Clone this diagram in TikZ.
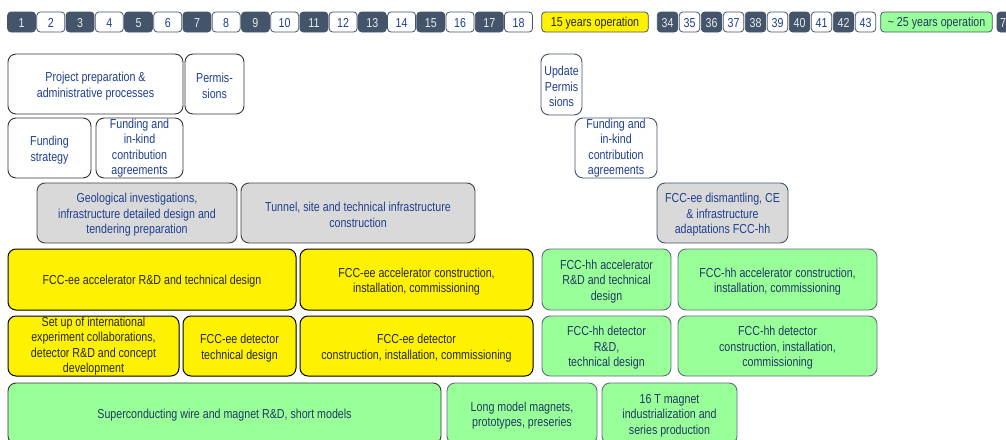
\documentclass[tikz,border=0pt]{standalone}
\usepackage{fontspec}
\setmainfont{Liberation Sans}[FakeStretch=0.82]
\usepackage{xcolor}
\usepackage{tikz}

\definecolor{slate}{RGB}{68,84,106}
\definecolor{txtblue}{RGB}{31,63,143}
\definecolor{grntxt}{RGB}{31,56,100}
\definecolor{boxgreen}{RGB}{153,255,153}
\definecolor{boxgrey}{RGB}{217,217,217}
\newcommand{\boxfont}{\fontsize{13}{15.5}\selectfont}
\newcommand{\fl}{\rule{0pt}{13.5pt}}

\tikzset{
  box/.style={rounded corners=8pt, align=center, inner sep=1pt, outer sep=0pt, line width=0.9pt, font=\boxfont},
  plain/.style={box, fill=white, draw=black!80, text=txtblue},
  grey/.style={box, fill=boxgrey, draw=black!75, text=txtblue},
  yel/.style={box, fill=yellow, draw=black, line width=1pt, text=black!85},
  grn/.style={box, fill=boxgreen, draw=slate!85, text=grntxt},
  yr/.style={rounded corners=3.5pt, inner sep=0pt, outer sep=0pt, line width=0.8pt, minimum width=28, minimum height=20, font=\boxfont,
    execute at begin node={\rule{0pt}{11pt}}},
  yr1/.style={yr, fill=slate, draw=slate, text=white!88!slate},
  yr0/.style={yr, fill=white, draw=slate, text=txtblue}
}

\begin{document}
\begin{tikzpicture}[x=1pt,y=-1pt]
	\useasboundingbox (0,0) rectangle (1006,439);
	\foreach \i in {1,...,18}{
		\pgfmathtruncatemacro\m{mod(\i,2)}
		\node[yr\m] (y\i) at ({21.6+(\i-1)*29.23},22) {\i};
	}
	\node[yr, fill=yellow, draw=slate, text=black!85, minimum width=106.6] (op15) at (595,22) {15 years operation};
	\foreach \i in {34,...,43}{
		\pgfmathtruncatemacro\m{mod(\i+1,2)}
		\node[yr\m, minimum width=20.5] (y\i) at ({667.5+(\i-34)*22},22) {\i};
	}
	\node[yr, fill=boxgreen, draw=slate, text=grntxt, minimum width=111.6] (op25) at (936.5,22) {\textasciitilde\ 25 years operation};
	\node[yr1, minimum width=12] (y70) at (1003,22) {7};

	\node[plain, minimum width=175, minimum height=60] (prep) at (95.5,84) {\fl Project preparation \&\\administrative processes};
	\node[plain, minimum width=59, minimum height=60] (perm) at (214.5,84) {\fl Permis-\\sions};
	\node[plain, draw=slate, minimum width=41, minimum height=61] (updperm) at (561.5,84.5) {\fl Update\\Permis\\sions};

	\node[plain, minimum width=83, minimum height=60] (fundstr) at (49.5,148) {\fl Funding\\strategy};
	\node[plain, inner ysep=0pt, minimum width=87, minimum height=60] (fundik) at (139.5,148) {Funding and\\in-kind\\contribution\\agreements};
	\node[plain, inner ysep=0pt, draw=slate, minimum width=82, minimum height=60] (fundik2) at (616,148) {Funding and\\in-kind\\contribution\\agreements};

	\node[grey, minimum width=200, minimum height=60] (geo) at (137,213) {\fl Geological investigations,\\infrastructure detailed design and\\tendering preparation};
	\node[grey, minimum width=234, minimum height=60] (tunnel) at (358,213) {\fl Tunnel, site and technical infrastructure\\construction};
	\node[grey, draw=slate, minimum width=131, minimum height=60] (dism) at (722.5,213) {\fl FCC-ee dismantling, CE\\\& infrastructure\\adaptations FCC-hh};

	\node[yel, minimum width=288, minimum height=61] (eeacc) at (152,279.5) {\fl FCC-ee accelerator R\&D and technical design};
	\node[yel, minimum width=233, minimum height=61] (eeaccc) at (416.5,279.5) {\fl FCC-ee accelerator construction,\\installation, commissioning};
	\node[grn, minimum width=129, minimum height=61] (hhacc) at (606.5,279.5) {\fl FCC-hh accelerator\\R\&D and technical\\design};
	\node[grn, minimum width=199, minimum height=61] (hhaccc) at (777.5,279.5) {\fl FCC-hh accelerator construction,\\installation, commissioning};

	\node[yel, inner ysep=0pt, minimum width=171, minimum height=60] (setup) at (93.5,346) {Set up of international\\experiment collaborations,\\detector R\&D and concept\\development};
	\node[yel, minimum width=113, minimum height=60] (eedet) at (239.5,346) {\fl FCC-ee detector\\technical design};
	\node[yel, minimum width=233, minimum height=60] (eedetc) at (416.5,346) {\fl FCC-ee detector\\construction, installation, commissioning};
	\node[grn, minimum width=129, minimum height=60] (hhdet) at (606.5,346) {\fl FCC-hh detector\\R\&D,\\technical design};
	\node[grn, minimum width=199, minimum height=60] (hhdetc) at (777.5,346) {\fl FCC-hh detector\\construction, installation,\\commissioning};

	\node[grn, draw=black!80, minimum width=433, minimum height=61] (sc) at (224.5,413.5) {\fl Superconducting wire and magnet R\&D, short models};
	\node[grn, minimum width=150, minimum height=61] (longm) at (522,413.5) {\fl Long model magnets,\\prototypes, preseries};
	\node[grn, minimum width=135, minimum height=61] (tsm) at (669.5,413.5) {\fl 16 T magnet\\industrialization and\\series production};
\end{tikzpicture}
\end{document}
